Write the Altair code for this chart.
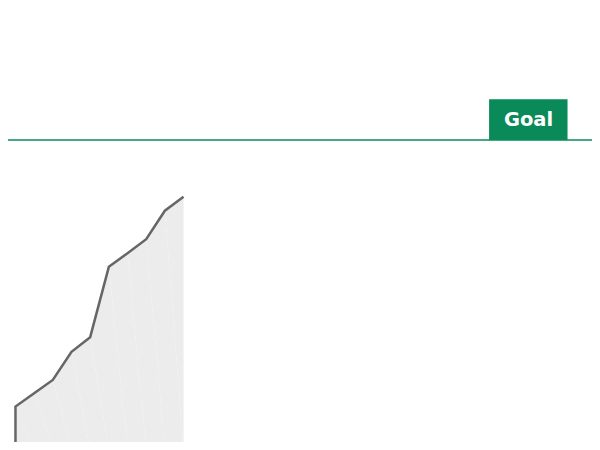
import altair as alt
import pandas as pd

# Data
days = [1, 1, 2, 3, 4, 5, 6, 7, 8, 9, 10]
values = [0, 14.0, 18.3, 22.6, 31.7, 36.4, 59.1, 63.5, 68.0, 77.2, 81.7]
order = list(range(len(days)))
goal_value = 100
goal_label = "Goal"
label_left, label_right, label_center = 26.36, 30.56, 28.47
label_top = 113.2

df = pd.DataFrame({"day": days, "value": values, "order": order})

x_scale = alt.Scale(domain=[0.6, 31.87], nice=False, zero=False)
y_scale = alt.Scale(domain=[2.58, 142.6], nice=False, zero=False)

x_enc = alt.X("day:Q", scale=x_scale, axis=None)
y_enc = alt.Y("value:Q", scale=y_scale, axis=None)

area = alt.Chart(df).mark_area(color="#ececec", opacity=1).encode(
    x=x_enc, y=y_enc, order="order:Q"
)
line = alt.Chart(df).mark_line(color="#666666", strokeWidth=2.5).encode(
    x=x_enc, y=y_enc, order="order:Q"
)

goal_df = pd.DataFrame({"goal": [goal_value], "label": [goal_label],
                        "lx": [label_left], "lx2": [label_right],
                        "lc": [label_center], "gtop": [label_top]})

rule = alt.Chart(goal_df).mark_rule(color="#0a8a58", strokeWidth=1.5).encode(
    y=alt.Y("goal:Q", scale=y_scale, axis=None),
    x=alt.value(-10), x2=alt.value(700),
)
box = alt.Chart(goal_df).mark_rect(color="#0a8a58").encode(
    x=alt.X("lx:Q", scale=x_scale, axis=None), x2="lx2:Q",
    y=alt.Y("goal:Q", scale=y_scale, axis=None), y2="gtop:Q",
)
text = alt.Chart(goal_df).mark_text(
    color="white", fontSize=19.5, fontWeight="bold", font="DejaVu Sans",
    baseline="alphabetic", dy=-14, align="center",
).encode(
    x=alt.X("lc:Q", scale=x_scale, axis=None),
    y=alt.Y("goal:Q", scale=y_scale, axis=None),
    text="label:N",
)

chart = alt.layer(area, line, rule, box, text).properties(
    width=584, height=434, padding=0,
    autosize=alt.AutoSizeParams(type="none"),
).configure_view(stroke=None)

chart.save("out.html", embed_options={"renderer": "svg", "actions": False})
